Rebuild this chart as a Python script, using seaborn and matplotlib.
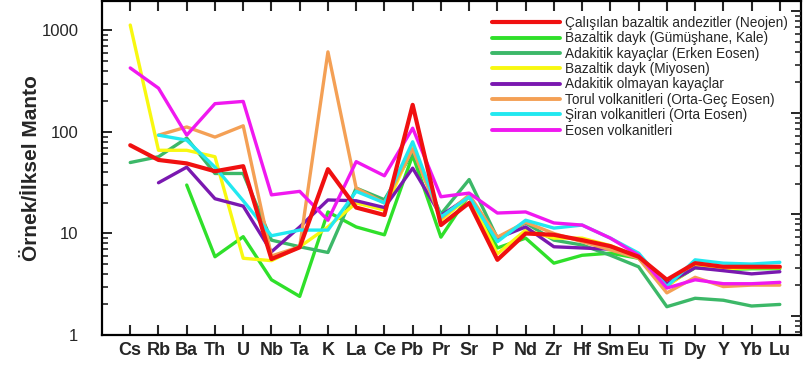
import numpy as np
import pandas as pd
import matplotlib
matplotlib.use("Agg")
import matplotlib.pyplot as plt
import seaborn as sns
from matplotlib.ticker import LogLocator, NullFormatter
from matplotlib.lines import Line2D

nan = np.nan
elements = ["Cs", "Rb", "Ba", "Th", "U", "Nb", "Ta", "K", "La", "Ce", "Pb", "Pr",
            "Sr", "P", "Nd", "Zr", "Hf", "Sm", "Eu", "Ti", "Dy", "Y", "Yb", "Lu"]

names = ["Çalışılan bazaltik andezitler (Neojen)",
         "Bazaltik dayk (Gümüşhane, Kale)",
         "Adakitik kayaçlar (Erken Eosen)",
         "Bazaltik dayk (Miyosen)",
         "Adakitik olmayan kayaçlar",
         "Torul volkanitleri (Orta-Geç Eosen)",
         "Şiran volkanitleri (Orta Eosen)",
         "Eosen volkanitleri"]

calisilan = [74, 53, 49, 41, 46, 5.6, 7.3, 43, 18, 15.2, 185, 12.1, 20, 5.5, 10, 9.7,
             8.6, 7.5, 5.9, 3.5, 5.1, 4.7, 4.7, 4.7]
gumushane = [nan, nan, 30, 5.9, 9.3, 3.5, 2.4, 16.3, 11.6, 9.7, 59, 9.2, 24, 7.2, 9.0,
             5.1, 6.1, 6.4, 5.7, 3.1, 4.6, 4.4, 4.5, 4.5]
adakitik = [50, 57, 87, 39, 39, 8.6, 7.4, 6.5, 28, 21.5, 63, 15.5, 34, 9.0, 12.7, 8.6,
            7.7, 6.1, 4.7, 1.9, 2.3, 2.2, 1.93, 2.0]
miyosen = [1130, 66, 66, 57, 5.7, 5.4, 7.4, 11.6, 20, 17, 71, 13.5, 23, 6.3, 10.8, 9.0,
           9.0, 7.6, 5.9, 3.0, 4.8, 4.5, 4.6, 4.6]
olmayan = [nan, 31.6, 45, 22, 18.6, 6.6, 11.6, 21.4, 21, 18, 44, 15, 23, 9.0, 11.6, 7.4,
           7.2, 7.0, 5.9, 3.2, 4.6, 4.3, 4.0, 4.2]
torul = [nan, 93, 112, 89, 115, 6.0, 7.4, 615, 28, 20, 68, 14, 24, 9.2, 12.9, 10, 8.3,
         6.9, 5.7, 2.6, 3.7, 3.0, 3.1, 3.1]
siran = [nan, 93, 83, 45, 21, 9.5, 10.8, 10.8, 26, 20, 80, 14.5, 23, 8.3, 13.5, 11.3,
         12.1, 9.0, 6.4, 3.0, 5.5, 5.1, 5.0, 5.2]
eosen = [427, 270, 93, 190, 200, 24, 26, 13.5, 51, 37, 109, 23, 25, 15.9, 16.3, 12.7,
         12.1, 9.0, 6.1, 2.9, 3.5, 3.2, 3.2, 3.3]

series = [calisilan, gumushane, adakitik, miyosen, olmayan, torul, siran, eosen]
colors = ["#f01010", "#2fe02a", "#3cb868", "#f8f810", "#7a18b0", "#f4a055",
          "#22e8f0", "#f018f0"]
palette = dict(zip(names, colors))

rows = []
for name, vals in zip(names, series):
    for el, v in zip(elements, vals):
        if not np.isnan(v):
            rows.append({"Element": el, "Value": v, "Series": name})
df = pd.DataFrame(rows)

sns.set_style("white")
plt.rcParams["font.family"] = ["Liberation Sans", "DejaVu Sans"]

fig = plt.figure(figsize=(8.04, 3.67), dpi=100)
ax = fig.add_axes([102 / 804, (367 - 335) / 367, 699 / 804, 334 / 367])

sns.lineplot(data=df, x="Element", y="Value", hue="Series", hue_order=names,
             palette=palette, sort=False, estimator=None, linewidth=2.4,
             legend=False, ax=ax)

for ln in ax.lines:
    ln.set_zorder(2)
ax.lines[0].set_zorder(5)
ax.lines[0].set_linewidth(3.0)

ax.set_yscale("log")
ax.set_ylim(1, 1950)
ax.set_xlim(-1, 23.75)
ax.set_xticks(range(len(elements)))
ax.set_xticklabels(elements, fontsize=13, fontweight="bold")
ax.set_yticks([1, 10, 100, 1000])
ax.set_yticklabels(["1", "10", "100", "1000"], fontsize=12)
ax.yaxis.set_minor_locator(LogLocator(base=10, subs=np.arange(2, 10)))
ax.yaxis.set_minor_formatter(NullFormatter())
ax.set_xlabel("")
ax.set_ylabel("Örnek/İlksel Manto", fontsize=15, fontweight="bold", labelpad=0)

for sp in ax.spines.values():
    sp.set_linewidth(1.6)
    sp.set_color("black")

ax.tick_params(axis="x", which="major", direction="in", top=True, bottom=True,
               length=7, width=1.5, pad=5)
ax.tick_params(axis="y", which="major", direction="in", left=True, right=False,
               length=7, width=1.4, pad=17)
ax.tick_params(axis="y", which="minor", direction="in", left=True, right=False,
               length=4, width=1.2)

# right-hand axis with its own (offset) log ticks
ax2 = ax.twinx()
ax2.set_yscale("log")
ax2.set_ylim(1 / 10 ** 0.187, 1950 / 10 ** 0.187)
ax2.yaxis.set_major_locator(LogLocator(base=10))
ax2.yaxis.set_minor_locator(LogLocator(base=10, subs=np.arange(2, 10)))
ax2.yaxis.set_major_formatter(NullFormatter())
ax2.yaxis.set_minor_formatter(NullFormatter())
ax2.tick_params(axis="y", which="major", direction="in", length=7, width=1.4)
ax2.tick_params(axis="y", which="minor", direction="in", length=4, width=1.2)
for sp in ax2.spines.values():
    sp.set_visible(False)

handles = [Line2D([0], [0], color=c, lw=3.0 if i == 0 else 2.8)
           for i, c in enumerate(colors)]
leg = ax.legend(handles, names, loc="upper left",
                bbox_to_anchor=((492 - 102) / 699, 1 - (16 - 1) / 334),
                frameon=False, fontsize=9.8, handlelength=5.0,
                handletextpad=0.4, labelspacing=0.1, borderpad=0,
                borderaxespad=0)
leg.set_zorder(10)

fig.savefig("out.png", dpi=100)
